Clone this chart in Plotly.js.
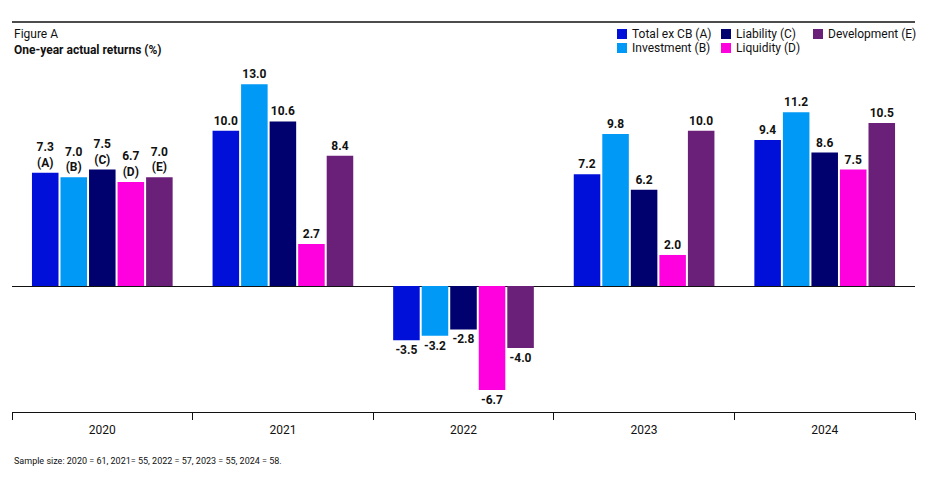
<!DOCTYPE html>
<html><head><meta charset="utf-8">
<script src="https://cdn.plot.ly/plotly-3.0.1.min.js"></script>
<style>body{margin:0;background:#fff}</style>
</head><body><div id="chart" style="width:948px;height:478px"></div>
<script>
const years = ["2020", "2021", "2022", "2023", "2024"];
const seriesNames = ["Total ex CB (A)", "Investment (B)", "Liability (C)", "Liquidity (D)", "Development (E)"];
const seriesLetters = ["A", "B", "C", "D", "E"];
const totalExCB = [7.3, 10.0, -3.5, 7.2, 9.4];
const investment = [7.0, 13.0, -3.2, 9.8, 11.2];
const liability = [7.5, 10.6, -2.8, 6.2, 8.6];
const liquidity = [6.7, 2.7, -6.7, 2.0, 7.5];
const development = [7.0, 8.4, -4.0, 10.0, 10.5];
const colors = ["#0010D8", "#0099F5", "#00006E", "#FF00DE", "#6A1F78"];

const FONT = "Roboto, 'Liberation Sans', Arial, sans-serif";
const allSeries = [totalExCB, investment, liability, liquidity, development];

const traces = allSeries.map((vals, i) => ({
  type: "bar",
  name: seriesNames[i],
  x: years,
  y: vals,
  marker: { color: colors[i] },
  text: vals.map((v, j) => v.toFixed(1) + (j === 0 ? "<br>(" + seriesLetters[i] + ")" : "")),
  textposition: "outside",
  constraintext: "none",
  cliponaxis: false,
  textfont: { family: FONT, size: 12, color: "#111", weight: 700 },
  showlegend: false,
  hoverinfo: "x+y+name"
}));

const plotTop = 60, plotBottom = 412, plotH = plotBottom - plotTop;
const plotLeft = 12, plotRight = 915, plotW = plotRight - plotLeft;
const py = (px) => (plotBottom - px) / plotH;
const pxr = (px) => (px - plotLeft) / plotW;

// Legend (two rows, filled column by column)
const legendColX = [617, 721, 813];
const legendRowY = [34, 48];
const legendShapes = [];
const legendTexts = [];
seriesNames.forEach((name, i) => {
  const col = Math.floor(i / 2), row = i % 2;
  const x0 = legendColX[col], yc = legendRowY[row];
  legendShapes.push({
    type: "rect", xref: "paper", yref: "paper",
    x0: pxr(x0), x1: pxr(x0 + 10), y0: py(yc + 5), y1: py(yc - 5),
    fillcolor: colors[i], line: { width: 0 }
  });
  legendTexts.push({
    xref: "paper", yref: "paper", x: pxr(x0 + 13), y: py(yc), xanchor: "left", yanchor: "middle",
    text: name, showarrow: false, font: { family: FONT, size: 12, color: "#111" }
  });
});

const layout = {
  width: 948, height: 478,
  margin: { l: plotLeft, r: 948 - plotRight, t: plotTop, b: 478 - plotBottom, pad: 0 },
  paper_bgcolor: "#fff", plot_bgcolor: "#fff",
  font: { family: FONT, size: 12, color: "#111" },
  barmode: "group",
  bargap: 0.21,
  bargroupgap: 0.07,
  showlegend: false,
  xaxis: {
    type: "category",
    showline: true, linecolor: "#111", linewidth: 1,
    ticks: "outside", tickson: "boundaries", ticklen: 7, tickcolor: "#111", tickwidth: 1,
    ticklabelstandoff: 7,
    showgrid: false, zeroline: false,
    tickfont: { family: FONT, size: 12, color: "#111" },
    fixedrange: true
  },
  yaxis: {
    range: [-(plotBottom - 286) / 15.52, (286 - plotTop) / 15.52],
    showgrid: false, showticklabels: false, ticks: "",
    zeroline: true, zerolinecolor: "#111", zerolinewidth: 1,
    showline: false, fixedrange: true
  },
  shapes: [
    { type: "line", xref: "paper", yref: "paper", x0: 0, x1: 1, y0: py(22), y1: py(22),
      line: { color: "#111", width: 1.5 } }
  ].concat(legendShapes),
  annotations: [
    { xref: "paper", yref: "paper", x: 0, y: py(41.5), xanchor: "left", yanchor: "middle", align: "left",
      text: "Figure A<br><b>One-year actual returns (%)</b>", showarrow: false,
      font: { family: FONT, size: 12, color: "#111" } },
    { xref: "paper", yref: "paper", x: 0, y: py(461), xanchor: "left", yanchor: "middle",
      text: "Sample size: 2020 = 61, 2021= 55, 2022 = 57, 2023 = 55, 2024 = 58.", showarrow: false,
      font: { family: FONT, size: 9, color: "#111" } }
  ].concat(legendTexts)
};

Plotly.newPlot("chart", traces, layout, { displayModeBar: false });
</script>
</body></html>
